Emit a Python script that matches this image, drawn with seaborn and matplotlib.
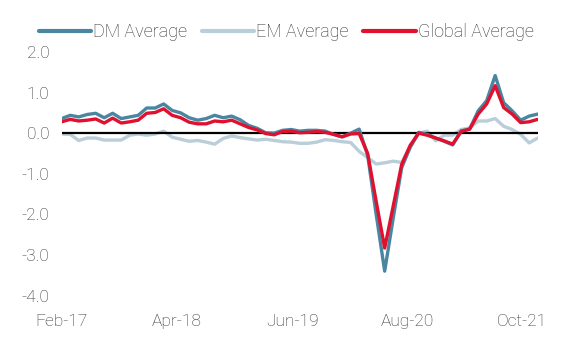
import numpy as np
import pandas as pd
import matplotlib
matplotlib.use("Agg")
import matplotlib.pyplot as plt
import seaborn as sns

# Monthly data, Feb-17 .. Oct-21 (57 months)
dm_avg = [0.36, 0.44, 0.40, 0.46, 0.49, 0.38, 0.49, 0.36, 0.40, 0.44,
          0.62, 0.62, 0.72, 0.56, 0.50, 0.38, 0.32, 0.36, 0.44, 0.38,
          0.42, 0.33, 0.19, 0.12, 0.01, 0.00, 0.07, 0.09, 0.05, 0.07,
          0.07, 0.05, -0.03, -0.09, 0.00, 0.10, -0.55, -2.00, -3.40, -2.10,
          -0.85, -0.35, 0.02, -0.03, -0.12, -0.20, -0.29, 0.06, 0.10, 0.55,
          0.80, 1.42, 0.75, 0.55, 0.32, 0.42, 0.47]
em_avg = [-0.02, -0.03, -0.18, -0.12, -0.12, -0.17, -0.17, -0.17, -0.05, -0.02,
          -0.05, -0.02, 0.05, -0.10, -0.15, -0.20, -0.18, -0.22, -0.27, -0.13,
          -0.07, -0.11, -0.14, -0.17, -0.15, -0.18, -0.21, -0.22, -0.25, -0.25,
          -0.22, -0.16, -0.18, -0.21, -0.23, -0.45, -0.60, -0.76, -0.73, -0.69,
          -0.72, -0.35, 0.00, 0.05, -0.19, -0.05, -0.05, 0.09, 0.13, 0.30,
          0.30, 0.36, 0.17, 0.09, -0.03, -0.24, -0.12]
global_avg = [0.28, 0.34, 0.30, 0.32, 0.35, 0.25, 0.37, 0.25, 0.28, 0.32,
              0.49, 0.51, 0.60, 0.44, 0.38, 0.27, 0.23, 0.23, 0.30, 0.28,
              0.32, 0.23, 0.14, 0.08, -0.01, -0.04, 0.04, 0.05, 0.01, 0.02,
              0.04, 0.02, -0.03, -0.09, -0.02, -0.01, -0.50, -1.68, -2.83, -1.80,
              -0.77, -0.30, 0.00, -0.05, -0.12, -0.19, -0.27, 0.04, 0.10, 0.47,
              0.72, 1.17, 0.63, 0.47, 0.26, 0.28, 0.34]

x_tick_labels = ["Feb-17", "Apr-18", "Jun-19", "Aug-20", "Oct-21"]
y_ticks = [2.0, 1.0, 0.0, -1.0, -2.0, -3.0, -4.0]

months = np.arange(len(dm_avg))

sns.set_theme(style="white")
plt.rcParams["font.family"] = ["Roboto", "DejaVu Sans"]

text_color = "#303030"
fig = plt.figure(figsize=(5.68, 3.41), dpi=100)
ax = fig.add_axes([0.1086, 0.1334, 0.838, 0.7141])

series = [
    ("DM Average", dm_avg, "#4a86a0", 3),
    ("EM Average", em_avg, "#b9ced8", 2),
    ("Global Average", global_avg, "#e0102e", 4),
]
for name, vals, color, z in series:
    sns.lineplot(x=months, y=vals, ax=ax, color=color, linewidth=2.4,
                 label=name, zorder=z, sort=False)

ax.axhline(0, color="black", linewidth=1.6, zorder=2.5)

ax.set_xlim(0, len(dm_avg) - 1)
ax.set_ylim(-4, 2)
ax.set_yticks(y_ticks)
ax.set_yticklabels([f"{v:.1f}" for v in y_ticks])
ax.set_xticks(np.arange(len(x_tick_labels)) * 13.55)
ax.set_xticklabels(x_tick_labels)
ax.tick_params(axis="both", length=0, labelsize=12.5, labelcolor=text_color)
ax.tick_params(axis="y", pad=9)
ax.tick_params(axis="x", pad=13)
for lab in ax.get_xticklabels() + ax.get_yticklabels():
    lab.set_fontweight("light")
for s in ax.spines.values():
    s.set_visible(False)
ax.set_xlabel("")
ax.set_ylabel("")
ax.grid(False)

leg = ax.legend(loc="center", bbox_to_anchor=(0.504, 0.906),
                bbox_transform=fig.transFigure, ncol=3, frameon=False,
                fontsize=13, handlelength=2.9, handletextpad=0.12,
                columnspacing=0.8, borderaxespad=0)
for t in leg.get_texts():
    t.set_color(text_color)
    t.set_fontweight("light")
for h in leg.get_lines():
    h.set_linewidth(3)

fig.savefig("out.png", dpi=100, facecolor="white")
